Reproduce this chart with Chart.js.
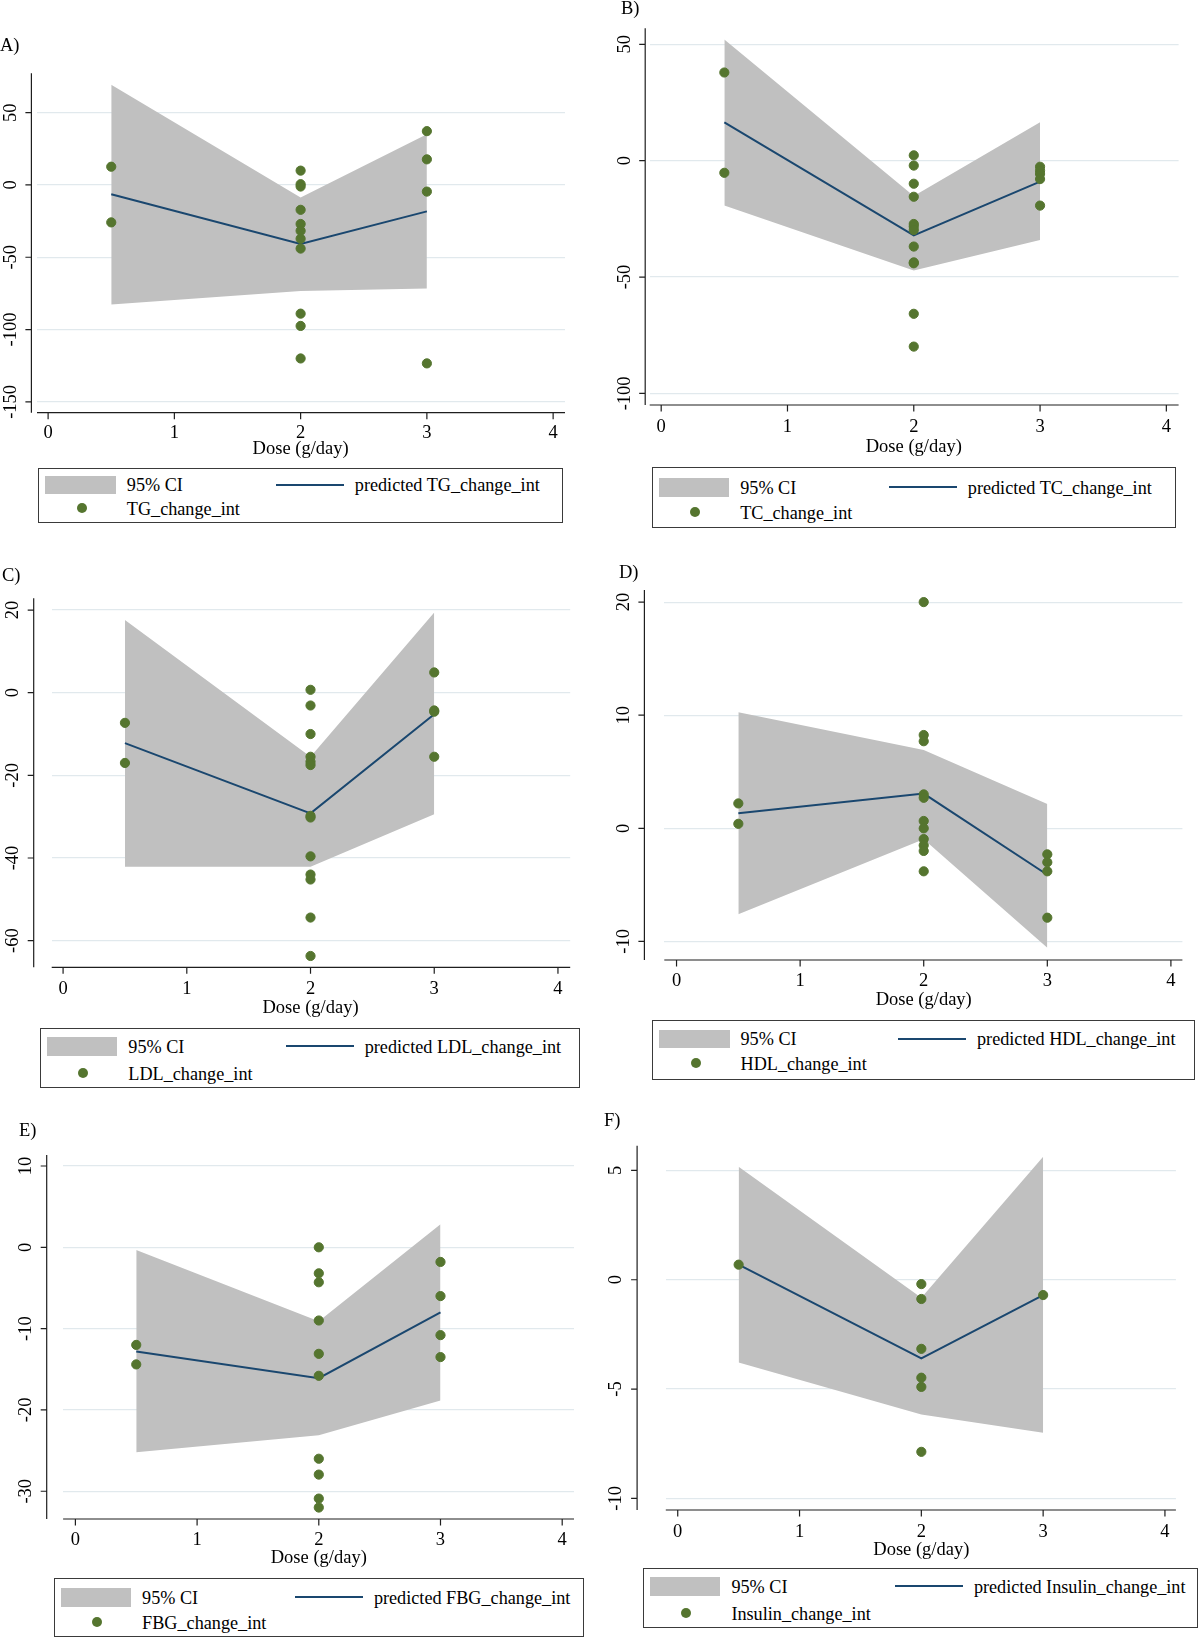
<!DOCTYPE html>
<html>
<head>
<meta charset="utf-8">
<script src="https://cdn.jsdelivr.net/npm/chart.js@4.4.1/dist/chart.umd.min.js"></script>
<style>
html,body{margin:0;padding:0;background:#fff;}
body{width:1200px;height:1638px;position:relative;overflow:hidden;font-family:"Liberation Serif","Times New Roman",serif;color:#000;}
canvas{position:absolute;}
.plabel{position:absolute;font-size:18.5px;line-height:1;white-space:nowrap;transform:translateY(-50%);}
.legend{position:absolute;border:1.4px solid #3a3a3a;box-sizing:border-box;background:#fff;}
.legend .sw{position:absolute;background:#c0c0c0;}
.legend .ln{position:absolute;height:2px;background:#1a476f;}
.legend .dot{position:absolute;width:10px;height:10px;border-radius:50%;background:#55752f;}
.legend .tx{position:absolute;font-size:18.2px;line-height:1;white-space:nowrap;transform:translateY(-50%);}
</style>
</head>
<body>
<script>
// ---------------- DATA ----------------
const fitDose = [0.5, 2, 3];
const xTickValues = [0, 1, 2, 3, 4];

// A) TG
const tgDose = [0.5, 0.5, 2, 2, 2, 2, 2, 2, 2, 2, 2, 2, 2, 3, 3, 3, 3];
const tgChange = [12.6, -25.9, 9.9, 0.5, -1.1, -17.2, -27, -31.7, -37.2, -44, -89, -97.5, -120, 37.2, 17.7, -4.6, -123.4];
const tgPredicted = [-6.4, -40.8, -18.3];
const tgUpper = [69.3, -8.7, 35.1];
const tgLower = [-82.6, -73.4, -71.6];
const tgTicks = [-150, -100, -50, 0, 50];

// B) TC
const tcDose = [0.5, 0.5, 2, 2, 2, 2, 2, 2, 2, 2, 2, 2, 2, 2, 3, 3, 3, 3, 3];
const tcChange = [37.9, -5.2, 2.3, -2.1, -9.9, -15.5, -27.2, -28.3, -29.8, -36.9, -43.7, -44.1, -65.8, -79.9, -2.6, -4.3, -5.7, -7.9, -19.3];
const tcPredicted = [16.5, -32.1, -9.0];
const tcUpper = [52.1, -15.2, 16.5];
const tcLower = [-19.3, -47.2, -34.1];
const tcTicks = [-100, -50, 0, 50];

// C) LDL
const ldlDose = [0.5, 0.5, 2, 2, 2, 2, 2, 2, 2, 2, 2, 2, 2, 2, 2, 3, 3, 3, 3];
const ldlChange = [-7.3, -17.0, 0.7, -3.1, -10.0, -15.5, -16.7, -17.5, -29.8, -30.2, -39.6, -44.0, -45.2, -54.4, -63.7, 4.9, -4.3, -4.6, -15.5];
const ldlPredicted = [-12.2, -29.2, -5.2];
const ldlUpper = [17.6, -15.5, 19.4];
const ldlLower = [-42.1, -42.1, -29.4];
const ldlTicks = [-60, -40, -20, 0, 20];

// D) HDL
const hdlDose = [0.5, 0.5, 2, 2, 2, 2, 2, 2, 2, 2, 2, 2, 2, 3, 3, 3, 3];
const hdlChange = [2.2, 0.4, 20.0, 8.25, 7.7, 3.0, 2.7, 0.65, 0, -0.95, -1.5, -2.0, -3.8, -2.3, -3.0, -3.8, -7.9];
const hdlPredicted = [1.33, 3.07, -4.1];
const hdlUpper = [10.26, 6.93, 2.15];
const hdlLower = [-7.6, -0.97, -10.55];
const hdlTicks = [-10, 0, 10, 20];

// E) FBG
const fbgDose = [0.5, 0.5, 2, 2, 2, 2, 2, 2, 2, 2, 2, 2, 3, 3, 3, 3];
const fbgChange = [-12.0, -14.4, 0, -3.2, -4.3, -9.0, -13.1, -15.8, -26.0, -27.95, -30.9, -32.0, -1.8, -6.0, -10.8, -13.5];
const fbgPredicted = [-12.8, -16.1, -8.0];
const fbgUpper = [-0.33, -9.1, 2.83];
const fbgLower = [-25.2, -23.1, -18.85];
const fbgTicks = [-30, -20, -10, 0, 10];

// F) Insulin
const insDose = [0.5, 2, 2, 2, 2, 2, 2, 3];
const insChange = [0.69, -0.2, -0.88, -3.16, -4.48, -4.9, -7.87, -0.7];
const insPredicted = [0.69, -3.6, -0.7];
const insUpper = [5.17, -0.82, 5.63];
const insLower = [-3.78, -6.16, -7.0];
const insTicks = [-10, -5, 0, 5];

const xTitle = 'Dose (g/day)';
const ciLabel = '95% CI';

// ---------------- LAYOUT ----------------
const FONT = '18.5px "Liberation Serif", "Times New Roman", serif';
const COLORS = { ci: '#c0c0c0', line: '#1a476f', dot: '#55752f', grid: '#e1e9ed', axis: '#1e1e1e' };

const panels = [
  { tag: 'A)', name: 'TG_change_int', dose: tgDose, val: tgChange, pred: tgPredicted, up: tgUpper, lo: tgLower, ticks: tgTicks,
    canvas: [0, 30, 600, 435], area: [37, 565, 73.3, 412.7], gap: 5.6, xr: [-0.088, 4.094], yr: [-157.5, 77.2],
    tickDy: 20, titleDy: 36.6, label: [0, 45], legend: [38.3, 468.3, 525, 55], rows: [16, 40], lineDx: 236.5 },
  { tag: 'B)', name: 'TC_change_int', dose: tcDose, val: tcChange, pred: tcPredicted, up: tcUpper, lo: tcLower, ticks: tcTicks,
    canvas: [600, 0, 600, 460], area: [649.7, 1178.6, 28.3, 405], gap: 4.5, xr: [-0.091, 4.097], yr: [-105.0, 56.9],
    tickDy: 21.7, titleDy: 41.7, label: [621, 7.5], legend: [651.7, 466.7, 524.2, 61], rows: [20, 45], lineDx: 236.1 },
  { tag: 'C)', name: 'LDL_change_int', dose: ldlDose, val: ldlChange, pred: ldlPredicted, up: ldlUpper, lo: ldlLower, ticks: ldlTicks,
    canvas: [0, 555, 600, 470], area: [51.7, 570.2, 598.3, 967.3], gap: 18, xr: [-0.092, 4.099], yr: [-66.44, 22.84],
    tickDy: 22, titleDy: 40.7, label: [2, 575], legend: [39.8, 1028.3, 540.2, 60], rows: [17.7, 44.8], lineDx: 244.9 },
  { tag: 'D)', name: 'HDL_change_int', dose: hdlDose, val: hdlChange, pred: hdlPredicted, up: hdlUpper, lo: hdlLower, ticks: hdlTicks,
    canvas: [600, 555, 600, 460], area: [664.3, 1182.4, 590, 960], gap: 19.9, xr: [-0.099, 4.093], yr: [-11.64, 21.07],
    tickDy: 21, titleDy: 40, label: [619, 572], legend: [652, 1020, 543.4, 60], rows: [18.3, 43.3], lineDx: 245 },
  { tag: 'E)', name: 'FBG_change_int', dose: fbgDose, val: fbgChange, pred: fbgPredicted, up: fbgUpper, lo: fbgLower, ticks: fbgTicks,
    canvas: [0, 1110, 600, 465], area: [63.1, 574, 1155, 1519], gap: 16.4, xr: [-0.101, 4.097], yr: [-33.41, 11.35],
    tickDy: 21, titleDy: 39.3, label: [19, 1130], legend: [53.6, 1578.3, 530, 58.4], rows: [18.4, 43.4], lineDx: 240.3 },
  { tag: 'F)', name: 'Insulin_change_int', dose: insDose, val: insChange, pred: insPredicted, up: insUpper, lo: insLower, ticks: insTicks,
    canvas: [600, 1100, 600, 462], area: [665.8, 1175.9, 1145.7, 1510], gap: 28.7, xr: [-0.098, 4.090], yr: [-10.53, 6.13],
    tickDy: 21.7, titleDy: 40, label: [604, 1120], legend: [642.9, 1568.3, 555, 60], rows: [17.7, 44.4], lineDx: 251 }
];

// plugin: Stata-like axes (offset y-axis line, outer tick marks, rotated y labels)
const stataAxes = {
  id: 'stataAxes',
  afterDraw(chart, args, o) {
    const { ctx, chartArea: a } = chart;
    const x = chart.scales.x, y = chart.scales.y;
    const ax = a.left - o.gap;
    ctx.save();
    ctx.strokeStyle = COLORS.axis;
    ctx.lineWidth = 1.2;
    ctx.beginPath();
    ctx.moveTo(ax, a.top); ctx.lineTo(ax, a.bottom);
    ctx.moveTo(a.left, a.bottom); ctx.lineTo(a.right, a.bottom);
    x.ticks.forEach(t => { const px = x.getPixelForValue(t.value); ctx.moveTo(px, a.bottom); ctx.lineTo(px, a.bottom + 6.5); });
    y.ticks.forEach(t => { const py = y.getPixelForValue(t.value); ctx.moveTo(ax - 6, py); ctx.lineTo(ax, py); });
    ctx.stroke();
    ctx.fillStyle = '#000';
    ctx.font = FONT;
    ctx.textAlign = 'center';
    ctx.textBaseline = 'middle';
    x.ticks.forEach(t => ctx.fillText(String(t.value), x.getPixelForValue(t.value), a.bottom + o.tickDy));
    y.ticks.forEach(t => {
      ctx.save();
      ctx.translate(ax - 20.5, y.getPixelForValue(t.value));
      ctx.rotate(-Math.PI / 2);
      ctx.fillText(String(t.value), 0, 0);
      ctx.restore();
    });
    const mid = (x.getPixelForValue(xTickValues[0]) + x.getPixelForValue(xTickValues[xTickValues.length - 1])) / 2;
    ctx.fillText(xTitle, mid, a.bottom + o.titleDy);
    ctx.restore();
  }
};

function pts(xs, ys) { return xs.map((v, i) => ({ x: v, y: ys[i] })); }

function el(cls, css, text) {
  const d = document.createElement('div');
  d.className = cls;
  Object.assign(d.style, css);
  if (text !== undefined) d.textContent = text;
  return d;
}

panels.forEach(p => {
  const [cx, cy, cw, ch] = p.canvas;
  const [L, R, T, B] = p.area;
  const cv = document.createElement('canvas');
  cv.width = cw; cv.height = ch;
  cv.style.left = cx + 'px'; cv.style.top = cy + 'px';
  cv.style.width = cw + 'px'; cv.style.height = ch + 'px';
  document.body.appendChild(cv);

  new Chart(cv.getContext('2d'), {
    type: 'scatter',
    data: {
      datasets: [
        { label: ciLabel + ' upper', data: pts(fitDose, p.up), showLine: true, pointRadius: 0, borderWidth: 0,
          borderColor: 'rgba(0,0,0,0)', backgroundColor: COLORS.ci, fill: false, tension: 0, order: 3 },
        { label: ciLabel, data: pts(fitDose, p.lo), showLine: true, pointRadius: 0, borderWidth: 0,
          borderColor: 'rgba(0,0,0,0)', backgroundColor: COLORS.ci, fill: '-1', tension: 0, order: 2 },
        { label: 'predicted ' + p.name, data: pts(fitDose, p.pred), showLine: true, pointRadius: 0, borderWidth: 2,
          borderColor: COLORS.line, fill: false, tension: 0, order: 1 },
        { label: p.name, data: pts(p.dose, p.val), showLine: false, pointRadius: 4.6, pointBorderWidth: 1,
          pointBackgroundColor: COLORS.dot, pointBorderColor: COLORS.dot, order: 0 }
      ]
    },
    options: {
      responsive: false,
      animation: false,
      events: [],
      layout: { padding: { left: L - cx, right: cx + cw - R, top: T - cy, bottom: cy + ch - B } },
      plugins: {
        legend: { display: false },
        tooltip: { enabled: false },
        stataAxes: { gap: p.gap, tickDy: p.tickDy, titleDy: p.titleDy }
      },
      scales: {
        x: {
          type: 'linear', min: p.xr[0], max: p.xr[1], bounds: 'data',
          ticks: { display: false }, grid: { display: false, drawTicks: false }, border: { display: false },
          afterBuildTicks: s => { s.ticks = xTickValues.map(v => ({ value: v })); },
          afterFit: s => { s.height = 0; }
        },
        y: {
          type: 'linear', min: p.yr[0], max: p.yr[1], bounds: 'data',
          ticks: { display: false },
          grid: { display: true, drawTicks: false, color: COLORS.grid, lineWidth: 1.2 },
          border: { display: false },
          afterBuildTicks: s => { s.ticks = p.ticks.map(v => ({ value: v })); },
          afterFit: s => { s.width = 0; }
        }
      }
    },
    plugins: [stataAxes]
  });

  // panel label
  document.body.appendChild(el('plabel', { left: p.label[0] + 'px', top: p.label[1] + 'px' }, p.tag));

  // legend
  const [lx, ly, lw, lh] = p.legend;
  const box = el('legend', { left: lx + 'px', top: ly + 'px', width: lw + 'px', height: lh + 'px' });
  const [r1, r2] = p.rows;
  box.appendChild(el('sw', { left: '6px', top: (r1 - 9.5) + 'px', width: '70.5px', height: '18.5px' }));
  box.appendChild(el('tx', { left: '87.5px', top: r1 + 'px' }, ciLabel));
  box.appendChild(el('ln', { left: p.lineDx + 'px', top: (r1 - 1.5) + 'px', width: '68px' }));
  box.appendChild(el('tx', { left: (p.lineDx + 79) + 'px', top: r1 + 'px' }, 'predicted ' + p.name));
  box.appendChild(el('dot', { left: '37.5px', top: (r2 - 6) + 'px' }));
  box.appendChild(el('tx', { left: '87.5px', top: r2 + 'px' }, p.name));
  document.body.appendChild(box);
});
</script>
</body>
</html>
